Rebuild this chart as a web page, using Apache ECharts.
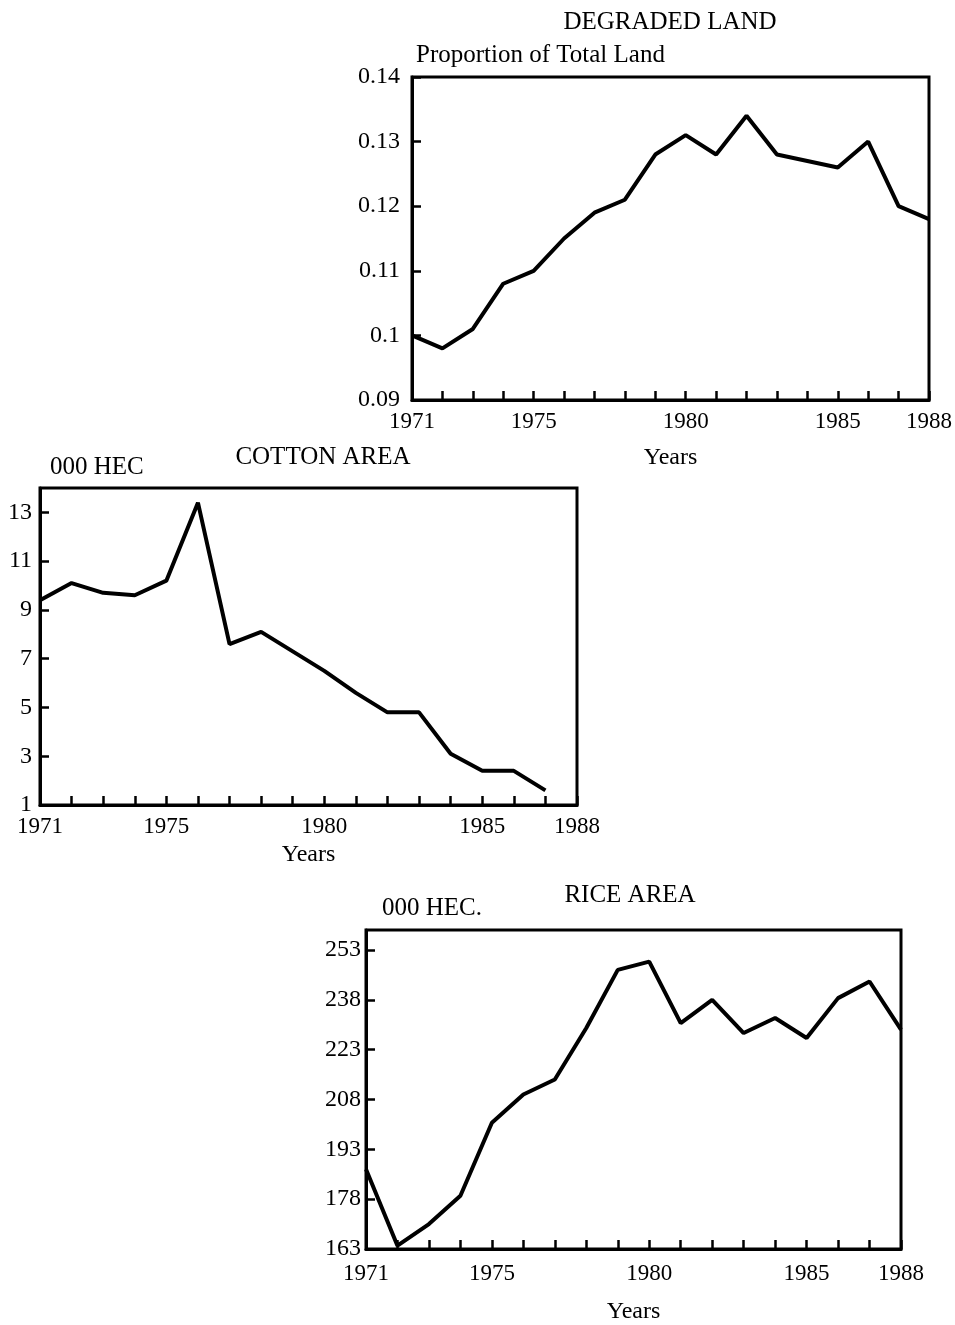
<!DOCTYPE html>
<html>
<head>
<meta charset="utf-8">
<script src="https://cdn.jsdelivr.net/npm/echarts@6/dist/echarts.min.js"></script>
<style>
  html, body { margin: 0; padding: 0; background: #fff; }
  #chart { width: 955px; height: 1325px; }
</style>
</head>
<body>
<div id="chart"></div>
<script>
// ---- data ----
const years = [1971, 1972, 1973, 1974, 1975, 1976, 1977, 1978, 1979, 1980, 1981, 1982, 1983, 1984, 1985, 1986, 1987, 1988];
const yearLabels = [1971, 1975, 1980, 1985, 1988];

const degradedLand = [0.100, 0.098, 0.101, 0.108, 0.110, 0.115, 0.119, 0.121, 0.128, 0.131, 0.128, 0.134, 0.128, 0.127, 0.126, 0.130, 0.120, 0.118];
const degradedTicks = [0.09, 0.10, 0.11, 0.12, 0.13, 0.14];

const cottonArea = [9.4, 10.1, 9.7, 9.6, 10.2, 13.4, 7.6, 8.1, 7.3, 6.5, 5.6, 4.8, 4.8, 3.1, 2.4, 2.4, 1.6, null];
const cottonTicks = [1, 3, 5, 7, 9, 11, 13];

const riceArea = [187, 164, 170.5, 179, 201, 209.5, 214, 229.5, 247, 249.5, 231, 238, 228, 232.5, 226.5, 238.5, 243.5, 229];
const riceTicks = [163, 178, 193, 208, 223, 238, 253];

// ---- helpers ----
const FONT = '"Liberation Serif", "DejaVu Serif", "Times New Roman", serif';
const pairs = (vals) => years.map((y, i) => [y, vals[i]]).filter(p => p[1] !== null);

function makeX(gridIndex, labelMargin, nameGap) {
  return {
    type: 'value', gridIndex, min: 1971, max: 1988,
    name: 'Years', nameLocation: 'middle', nameGap,
    nameTextStyle: { fontFamily: FONT, fontSize: 24, color: '#000' },
    axisLine: { show: true, lineStyle: { color: '#000', width: 3 } },
    axisTick: { show: true, inside: true, length: 9, lineStyle: { color: '#000', width: 2.5 }, customValues: years },
    axisLabel: { show: true, margin: labelMargin, fontFamily: FONT, fontSize: 23, color: '#000', customValues: yearLabels, formatter: v => String(v) },
    splitLine: { show: false }
  };
}
function makeY(gridIndex, min, max, ticks, name, nameGap, namePadLeft, labelMargin) {
  return {
    type: 'value', gridIndex, min, max,
    name, nameLocation: 'end', nameGap,
    nameTextStyle: { fontFamily: FONT, fontSize: 25, color: '#000', align: 'left', verticalAlign: 'bottom', padding: [0, 0, 0, namePadLeft] },
    axisLine: { show: true, lineStyle: { color: '#000', width: 3 } },
    axisTick: { show: true, inside: true, length: 9, lineStyle: { color: '#000', width: 2.5 }, customValues: ticks },
    axisLabel: { show: true, margin: labelMargin, fontFamily: FONT, fontSize: 24, color: '#000', customValues: ticks },
    splitLine: { show: false }
  };
}
const gridStyle = { show: true, borderColor: '#000', borderWidth: 3, backgroundColor: 'transparent', containLabel: false };
const lineStyle = { color: '#000', width: 4 };

const chart = echarts.init(document.getElementById('chart'), null, { renderer: 'canvas' });
chart.setOption({
  backgroundColor: '#fff',
  animation: false,
  grid: [
    Object.assign({ left: 412, top: 77, width: 523, height: 323 }, gridStyle),
    Object.assign({ left: 40, top: 488, width: 537, height: 317 }, gridStyle),
    Object.assign({ left: 366, top: 930, width: 535, height: 319 }, gridStyle)
  ],
  xAxis: [
    makeX(0, 10, 46),
    makeX(1, 10, 38),
    makeX(2, 13, 51)
  ],
  yAxis: [
    makeY(0, 0.09, 0.14, degradedTicks, 'Proportion of Total Land', 9, 4, 12),
    makeY(1, 1, 14, cottonTicks, '000 HEC', 8, 10, 8),
    makeY(2, 163, 259, riceTicks, '000 HEC.', 9, 16, 5)
  ],
  graphic: [
    { type: 'text', x: 670, y: 22, style: { text: 'DEGRADED LAND', font: '25px ' + FONT, fill: '#000', align: 'center', verticalAlign: 'middle' } },
    { type: 'text', x: 323, y: 457, style: { text: 'COTTON AREA', font: '25px ' + FONT, fill: '#000', align: 'center', verticalAlign: 'middle' } },
    { type: 'text', x: 630, y: 895, style: { text: 'RICE AREA', font: '25px ' + FONT, fill: '#000', align: 'center', verticalAlign: 'middle' } }
  ],
  series: [
    { type: 'line', xAxisIndex: 0, yAxisIndex: 0, data: pairs(degradedLand), showSymbol: false, symbol: 'none', lineStyle, silent: true },
    { type: 'line', xAxisIndex: 1, yAxisIndex: 1, data: pairs(cottonArea), showSymbol: false, symbol: 'none', lineStyle, silent: true },
    { type: 'line', xAxisIndex: 2, yAxisIndex: 2, data: pairs(riceArea), showSymbol: false, symbol: 'none', lineStyle, silent: true }
  ]
});
</script>
</body>
</html>
